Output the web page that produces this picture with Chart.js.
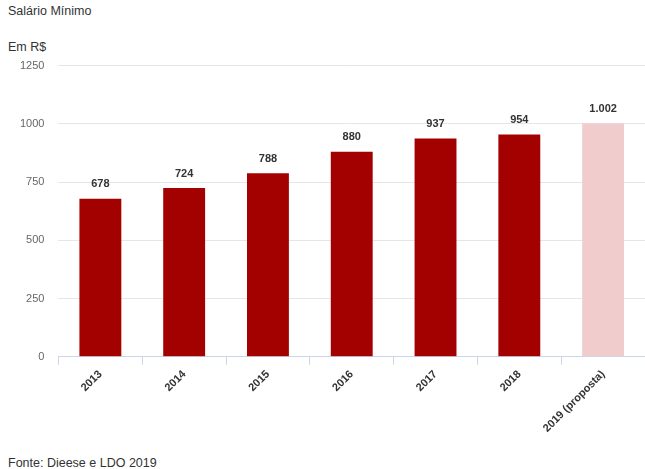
<!DOCTYPE html>
<html><head><meta charset="utf-8">
<script src="https://cdn.jsdelivr.net/npm/chart.js@4"></script>
<style>
body{margin:0;width:645px;height:469px;font-family:"Liberation Sans",Arial,sans-serif;background:#fff;position:relative;overflow:hidden}
.t{position:absolute;left:8px;font-size:12.5px;color:#333}
#wrap{position:absolute;left:0;top:45px;width:645px;height:393px}
</style></head><body>
<div class="t" style="top:4px">Salário Mínimo</div>
<div class="t" style="top:40px">Em R$</div>
<div class="t" style="top:456px">Fonte: Dieese e LDO 2019</div>
<div id="wrap"><canvas id="c"></canvas></div>
<script>
const categories=["2013","2014","2015","2016","2017","2018","2019 (proposta)"];
const values=[678,724,788,880,937,954,1002];
const valueLabels=["678","724","788","880","937","954","1.002"];
const colors=["#a30000","#a30000","#a30000","#a30000","#a30000","#a30000","#f0cccc"];
const labelPlugin={id:"lbl",afterDatasetsDraw(ch){const c=ch.ctx;const m=ch.getDatasetMeta(0);c.save();c.font="bold 11px 'Liberation Sans',Arial";c.fillStyle="#333";c.textAlign="center";c.textBaseline="bottom";m.data.forEach((b,i)=>c.fillText(valueLabels[i],b.x,b.y-9));c.restore();}};
new Chart(document.getElementById("c"),{type:"bar",
data:{labels:categories,datasets:[{data:values,backgroundColor:colors,categoryPercentage:1,barPercentage:0.5}]},
options:{responsive:true,maintainAspectRatio:false,animation:false,
layout:{padding:{top:14,right:0,left:6}},
plugins:{legend:{display:false},tooltip:{enabled:false}},
scales:{y:{min:0,max:1250,ticks:{stepSize:250,color:"#666",font:{size:11,family:"Liberation Sans"},padding:14,callback:v=>String(v)},grid:{color:"#e6e6e6",drawTicks:false},border:{display:false}},
x:{ticks:{color:"#333",font:{size:11,weight:"bold",family:"Liberation Sans"},maxRotation:45,minRotation:45},grid:{display:true,drawOnChartArea:false,color:"#ccd6eb",tickLength:8,offset:true},border:{color:"#ccd6eb"}}}},
plugins:[labelPlugin]});
</script></body></html>
